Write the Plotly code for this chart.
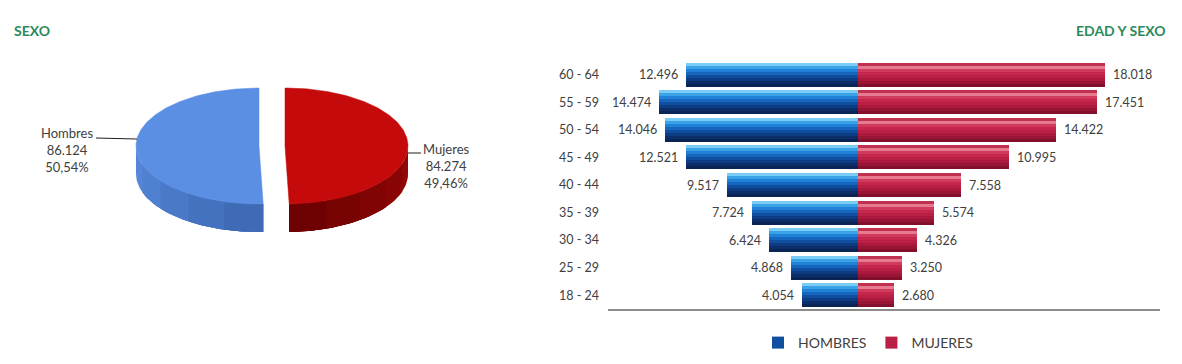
import numpy as np
import plotly.graph_objects as go

# ---------------- data ----------------
sexes = ["Hombres", "Mujeres"]
sex_totals = [86124, 84274]

age_groups = ["18 - 24", "25 - 29", "30 - 34", "35 - 39", "40 - 44",
              "45 - 49", "50 - 54", "55 - 59", "60 - 64"]
hombres = [4054, 4868, 6424, 7724, 9517, 12521, 14046, 14474, 12496]
mujeres = [2680, 3250, 4326, 5574, 7558, 10995, 14422, 17451, 18018]

legend_names = ["HOMBRES", "MUJERES"]
titles = ["SEXO", "EDAD Y SEXO"]

# ---------------- styles ----------------
W, H = 1182, 364
FONT = "Lato"
TXT = "#404040"
GREEN = "#2b8a5c"

def fmt_int(v):
    return f"{v:,}".replace(",", ".")

def fmt_pct(p):
    return f"{p:.2f}".replace(".", ",") + "%"

fig = go.Figure()

# ---------------- pie (pseudo-3D, exploded) ----------------
total = sum(sex_totals)
fracs = [v / total for v in sex_totals]
a, b, depth, cy = 123.0, 58.0, 28.0, 146.0
centers_x = [259.0, 285.0]          # Hombres pulled left, Mujeres pulled right
top_cols = ["#5b8fe4", "#c40a0a"]
side_cols = [["#5686d8", "#5080d0", "#4a79c8", "#4472bf", "#3f6bb6"],
             ["#920707", "#890505", "#800404", "#770303", "#6e0202"]]
signs = [-1, 1]                     # Hombres counter-clockwise, Mujeres clockwise

for i in range(2):
    cx = centers_x[i]
    s = signs[i]
    th_end = 2 * np.pi * fracs[i]
    # side (front visible part of the rim); overlapping segments -> no seams
    t0, t1 = np.pi / 2, min(th_end, 3 * np.pi / 2)
    edges = np.linspace(t0, t1, len(side_cols[i]) + 1)
    for k in range(len(side_cols[i])):
        th = np.linspace(edges[k], t1, 60)
        xs = cx + s * a * np.sin(th)
        ys = cy - b * np.cos(th)
        px = np.concatenate([xs, xs[::-1]])
        py = np.concatenate([ys, ys[::-1] + depth])
        fig.add_trace(go.Scatter(x=px, y=py, xaxis="x2", yaxis="y2", mode="lines",
                                 fill="toself", fillcolor=side_cols[i][k],
                                 line=dict(width=0),
                                 hoverinfo="skip", showlegend=False))
    # top face
    th = np.linspace(0, th_end, 200)
    xs = np.concatenate([[cx], cx + s * a * np.sin(th), [cx]])
    ys = np.concatenate([[cy], cy - b * np.cos(th), [cy]])
    fig.add_trace(go.Scatter(x=xs, y=ys, xaxis="x2", yaxis="y2", mode="lines",
                             fill="toself", fillcolor=top_cols[i],
                             line=dict(width=0.5, color=top_cols[i]),
                             hoverinfo="skip", showlegend=False))

pie_labels = [f"{sexes[i]}<br>{fmt_int(sex_totals[i])}<br>{fmt_pct(100 * fracs[i])}"
              for i in range(2)]
annotations = [
    dict(x=67, y=150, xref="x2", yref="y2", text=pie_labels[0], showarrow=False,
         align="center", font=dict(family=FONT, size=13, color=TXT)),
    dict(x=446, y=166, xref="x2", yref="y2", text=pie_labels[1], showarrow=False,
         align="center", font=dict(family=FONT, size=13, color=TXT)),
]
shapes = [
    dict(type="line", xref="x2", yref="y2", x0=96, y0=138, x1=137, y1=139,
         line=dict(color="#202020", width=1.2)),
    dict(type="line", xref="x2", yref="y2", x0=408, y0=153, x1=421, y1=153,
         line=dict(color="#202020", width=1.2)),
]

# ---------------- pyramid bars with banded gradient ----------------
men_cols = ["#0a2456", "#0b2d68", "#0d3c82", "#104f9f", "#1666bd",
            "#1f82d6", "#3aa3e8", "#78ccf5"]          # bottom -> top
wom_cols = ["#82102c", "#981535", "#ab1a3d", "#ba1f45", "#c5264c",
            "#d03a5c", "#e57a90", "#c0304f"]          # bottom -> top
N = len(men_cols)
bar_w = 0.87
h = bar_w / N
neg_men = [-v for v in hombres]

# each band spans from its own start to the bar top, drawn bottom-up
for k in range(N):
    off = -bar_w / 2 + k * h
    wk = bar_w - k * h
    fig.add_trace(go.Bar(y=age_groups, x=neg_men, orientation="h",
                         width=wk, offset=off, marker=dict(color=men_cols[k], line=dict(width=0)),
                         name=legend_names[0], legendgroup="h",
                         showlegend=(k == 3), hoverinfo="skip"))
    fig.add_trace(go.Bar(y=age_groups, x=mujeres, orientation="h",
                         width=wk, offset=off, marker=dict(color=wom_cols[k], line=dict(width=0)),
                         name=legend_names[1], legendgroup="m",
                         showlegend=(k == 3), hoverinfo="skip"))

for g, vm, vw in zip(age_groups, hombres, mujeres):
    annotations.append(dict(x=-vm, y=g, xref="x", yref="y", text=fmt_int(vm),
                            showarrow=False, xanchor="right", xshift=-6,
                            font=dict(family=FONT, size=12.5, color=TXT)))
    annotations.append(dict(x=vw, y=g, xref="x", yref="y", text=fmt_int(vw),
                            showarrow=False, xanchor="left", xshift=6,
                            font=dict(family=FONT, size=12.5, color=TXT)))

# titles
annotations.append(dict(x=12 / W, y=1 - 30 / H, xref="paper", yref="paper",
                        text=f"<b>{titles[0]}</b>", showarrow=False,
                        xanchor="left", yanchor="middle",
                        font=dict(family=FONT, size=14, color=GREEN)))
annotations.append(dict(x=1168 / W, y=1 - 30 / H, xref="paper", yref="paper",
                        text=f"<b>{titles[1]}</b>", showarrow=False,
                        xanchor="right", yanchor="middle",
                        font=dict(family=FONT, size=14, color=GREEN)))

fig.update_layout(
    width=W, height=H, margin=dict(l=0, r=0, t=0, b=0),
    paper_bgcolor="white", plot_bgcolor="white",
    barmode="overlay", bargap=0,
    font=dict(family=FONT, color=TXT),
    xaxis=dict(domain=[608 / W, 1160 / W], range=[-18180, 22025],
               showgrid=False, zeroline=False, showticklabels=False,
               showline=True, linecolor="#8c8c8c", linewidth=1.5, fixedrange=True),
    yaxis=dict(domain=[(H - 309) / H, (H - 61) / H], type="category",
               categoryorder="array", categoryarray=age_groups,
               range=[-0.5, len(age_groups) - 0.5],
               showgrid=False, zeroline=False, showline=False,
               ticks="", ticklabelstandoff=8,
               tickfont=dict(family=FONT, size=12.5, color=TXT)),
    xaxis2=dict(domain=[0, 0.4], range=[0, 0.4 * W], visible=False, fixedrange=True),
    yaxis2=dict(domain=[0, 1], range=[H, 0], visible=False, fixedrange=True,
                anchor="x2"),
    legend=dict(orientation="h", x=868 / W, xanchor="center",
                y=1 - 343 / H, yanchor="middle", itemwidth=30,
                traceorder="normal",
                font=dict(family=FONT, size=14, color=TXT)),
    annotations=annotations, shapes=shapes,
)

fig.write_html("out.html")
